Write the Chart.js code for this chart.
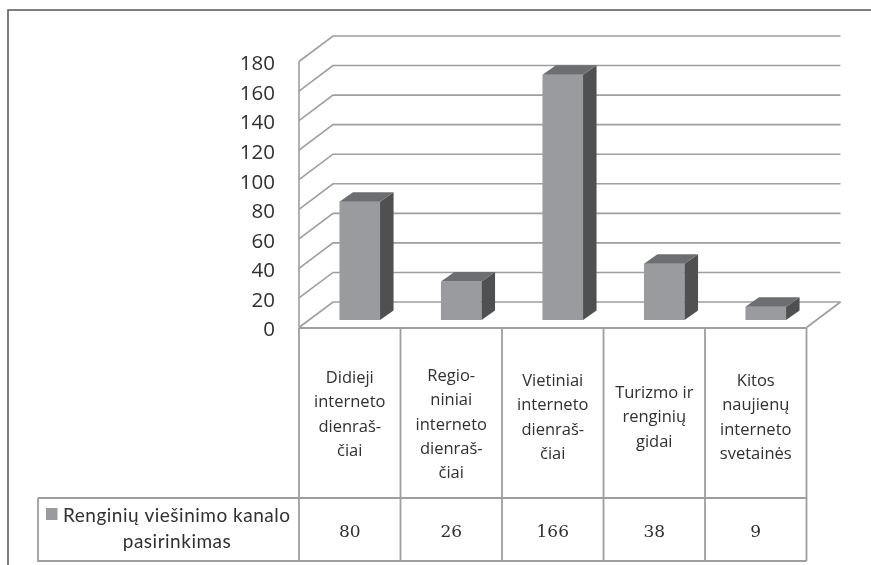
<!DOCTYPE html>
<html>
<head>
<meta charset="utf-8">
<title>Renginių viešinimo kanalo pasirinkimas</title>
<script src="https://cdn.jsdelivr.net/npm/chart.js@4"></script>
<style>
  html, body { margin: 0; padding: 0; background: #fff; }
  canvas { display: block; }
</style>
</head>
<body>
<canvas id="channelChart" width="871" height="565"></canvas>
<script>
// Data for the bar chart and its data table
const categories = ["Didieji", "Regioniniai", "Vietiniai", "Turizmas", "Kitos"];
const categoryLines = [
  ["Didieji", "interneto", "dienraš-", "čiai"],
  ["Regio-", "niniai", "interneto", "dienraš-", "čiai"],
  ["Vietiniai", "interneto", "dienraš-", "čiai"],
  ["Turizmo ir", "renginių", "gidai"],
  ["Kitos", "naujienų", "interneto", "svetainės"]
];
const seriesValues = [80, 26, 166, 38, 9];
const legendLines = ["Renginių viešinimo kanalo", "pasirinkimas"];
const yTicks = [0, 20, 40, 60, 80, 100, 120, 140, 160, 180];

// Baseline of the first text line in each table column
const firstBaselines = [383, 381, 386, 398, 386];

// 3D look: how far the back wall and the bars are pushed from the front plane
const wallDepth = { x: 34, y: -25.5 };
const barShift = { x: 10, y: -7.5 };
const barDepth = { x: 13.5, y: -9.5 };

const GRID_COLOR = "#9d9ea0";
const BAR_FRONT = "#9a9b9e";
const BAR_TOP = "#6d6e71";
const BAR_SIDE = "#4f5052";
const TEXT_COLOR = "#303032";

function strokePath(ctx, points, color, width) {
  ctx.beginPath();
  points.forEach(([x, y], i) => (i ? ctx.lineTo(x, y) : ctx.moveTo(x, y)));
  ctx.strokeStyle = color;
  ctx.lineWidth = width;
  ctx.stroke();
}

function fillPath(ctx, points, color) {
  ctx.beginPath();
  points.forEach(([x, y], i) => (i ? ctx.lineTo(x, y) : ctx.moveTo(x, y)));
  ctx.closePath();
  ctx.fillStyle = color;
  ctx.fill();
}

// Walls and floor behind the bars, then shift the bars onto the floor
const wallPlugin = {
  id: "wall",
  beforeDatasetsDraw(chart) {
    const { ctx, scales } = chart;
    const left = scales.x.left;
    const right = scales.x.right;
    ctx.save();
    yTicks.forEach((tick) => {
      const y = scales.y.getPixelForValue(tick);
      strokePath(ctx, [
        [left, y],
        [left + wallDepth.x, y + wallDepth.y],
        [right + wallDepth.x, y + wallDepth.y]
      ], GRID_COLOR, 1.6);
    });
    const zero = scales.y.getPixelForValue(0);
    strokePath(ctx, [[left, scales.y.getPixelForValue(180)], [left, zero]], GRID_COLOR, 1.6);
    strokePath(ctx, [[right, zero], [right + wallDepth.x, zero + wallDepth.y]], GRID_COLOR, 1.6);
    ctx.restore();

    ctx.save();
    ctx.translate(barShift.x, barShift.y);
  },
  // Side and top faces of every bar, still in the shifted coordinates
  afterDatasetsDraw(chart) {
    const { ctx } = chart;
    chart.getDatasetMeta(0).data.forEach((bar) => {
      const { x, y, base, width } = bar.getProps(["x", "y", "base", "width"], true);
      const l = x - width / 2;
      const r = x + width / 2;
      fillPath(ctx, [
        [r, y],
        [r + barDepth.x, y + barDepth.y],
        [r + barDepth.x, base + barDepth.y],
        [r, base]
      ], BAR_SIDE);
      fillPath(ctx, [
        [l, y],
        [l + barDepth.x, y + barDepth.y],
        [r + barDepth.x, y + barDepth.y],
        [r, y]
      ], BAR_TOP);
    });
    ctx.restore();
  }
};

// Page frame, data table under the axis and the table's text
const tablePlugin = {
  id: "dataTable",
  afterDraw(chart) {
    const { ctx, scales } = chart;
    const x = scales.x;
    const colWidth = x.width / categories.length;
    const tableTop = scales.y.getPixelForValue(0) + 0.5;
    const rowTop = 498;
    const rowBottom = 561;
    const legendLeft = 38;

    ctx.save();
    strokePath(ctx, [[871, 10], [8, 10], [8, 565]], "#555658", 1.5);

    strokePath(ctx, [[x.left, tableTop], [x.right, tableTop]], GRID_COLOR, 1.8);
    for (let i = 0; i <= categories.length; i++) {
      const colX = x.left + i * colWidth;
      strokePath(ctx, [[colX, tableTop], [colX, rowBottom]], GRID_COLOR, 1.8);
    }
    strokePath(ctx, [[legendLeft, rowTop], [x.right, rowTop]], GRID_COLOR, 1.8);
    strokePath(ctx, [[legendLeft, rowTop], [legendLeft, rowBottom], [x.right, rowBottom]], GRID_COLOR, 1.8);

    ctx.fillStyle = TEXT_COLOR;
    ctx.textAlign = "center";
    ctx.textBaseline = "alphabetic";

    ctx.font = '16.5px "Open Sans"';
    categoryLines.forEach((lines, i) => {
      const cx = x.getPixelForValue(i);
      lines.forEach((line, n) => ctx.fillText(line, cx, firstBaselines[i] + n * 24.3));
    });

    ctx.font = '17px "DejaVu Serif"';
    seriesValues.forEach((value, i) => {
      ctx.fillText(String(value), x.getPixelForValue(i), 537);
    });

    ctx.fillStyle = BAR_FRONT;
    ctx.fillRect(46, 508, 11.5, 12);
    ctx.fillStyle = TEXT_COLOR;
    ctx.font = '19px Lato';
    ctx.letterSpacing = "0.5px";
    ctx.textAlign = "left";
    ctx.fillText(legendLines[0], 63, 521.5);
    ctx.textAlign = "center";
    ctx.fillText(legendLines[1], 177, 548);
    ctx.restore();
  }
};

new Chart(document.getElementById("channelChart"), {
  type: "bar",
  data: {
    labels: categories,
    datasets: [{
      data: seriesValues,
      backgroundColor: BAR_FRONT,
      borderWidth: 0,
      barPercentage: 0.4,
      categoryPercentage: 1,
      clip: false
    }]
  },
  options: {
    responsive: false,
    animation: false,
    layout: { padding: { top: 61.5, right: 64.5, bottom: 237.5, left: 0 } },
    plugins: { legend: { display: false }, tooltip: { enabled: false } },
    scales: {
      x: {
        grid: { display: false, drawTicks: false },
        border: { display: false },
        ticks: { display: false }
      },
      y: {
        min: 0,
        max: 180,
        afterFit(scale) { scale.width = 299; },
        afterBuildTicks(scale) { scale.ticks = yTicks.map((value) => ({ value })); },
        grid: { display: false, drawTicks: false },
        border: { display: false },
        ticks: {
          autoSkip: false,
          padding: 24,
          labelOffset: 3,
          color: TEXT_COLOR,
          font: { family: "Open Sans", size: 20.5 }
        }
      }
    }
  },
  plugins: [wallPlugin, tablePlugin]
});
</script>
</body>
</html>
